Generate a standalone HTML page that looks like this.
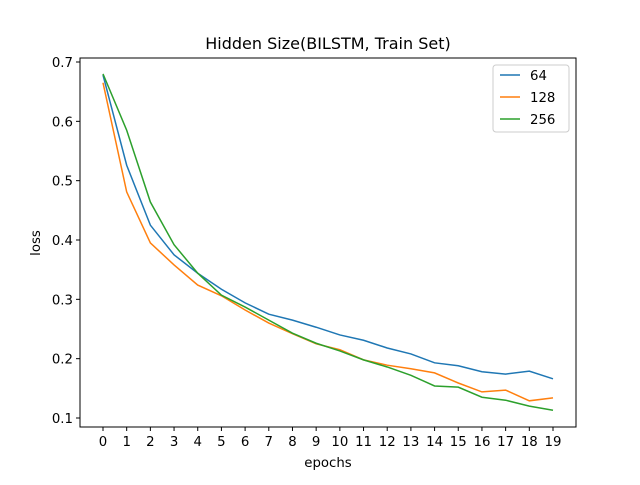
<!DOCTYPE html>
<html><head><meta charset="utf-8"><style>
body{margin:0;background:#fff}
svg text{font-family:"DejaVu Sans","Liberation Sans",sans-serif;fill:#000}
</style></head><body>
<svg id="chart" width="640" height="480" xmlns="http://www.w3.org/2000/svg">
<rect width="640" height="480" fill="#fff"/>
<text x="328" y="49" font-size="16" text-anchor="middle">Hidden Size(BILSTM, Train Set)</text>
<g id="marks"></g>
<g id="axes"></g>
<rect x="80" y="58" width="496" height="369" fill="none" stroke="#000" stroke-width="1"/>
<text x="328" y="467" font-size="13.3" text-anchor="middle">epochs</text>
<text x="40" y="243" font-size="13.3" text-anchor="middle" transform="rotate(-90 40 243)">loss</text>
<g id="legend">
<rect x="493" y="65" width="76" height="67" rx="3" fill="#fff" stroke="#ccc"/>
</g>
</svg>
<script>
const epochs=[0,1,2,3,4,5,6,7,8,9,10,11,12,13,14,15,16,17,18,19];
const s64=[0.678,0.526,0.425,0.375,0.344,0.317,0.294,0.275,0.265,0.253,0.240,0.231,0.218,0.208,0.193,0.188,0.178,0.174,0.179,0.166];
const s128=[0.665,0.481,0.395,0.358,0.324,0.306,0.282,0.260,0.242,0.225,0.215,0.198,0.189,0.183,0.176,0.159,0.144,0.147,0.129,0.134];
const s256=[0.680,0.585,0.464,0.392,0.344,0.307,0.287,0.265,0.243,0.226,0.213,0.198,0.186,0.172,0.154,0.152,0.135,0.130,0.120,0.113];
const seriesNames=["64","128","256"];
const yTicks=[0.1,0.2,0.3,0.4,0.5,0.6,0.7];
const colors=["#1f77b4","#ff7f0e","#2ca02c"];
const NS="http://www.w3.org/2000/svg";
const xs=e=>103+(e-0)*(553-103)/19;
const ys=v=>418-(v-0.1)*(418-62)/0.6;
const marks=document.getElementById('marks'),axes=document.getElementById('axes'),legend=document.getElementById('legend');
function mk(tag,attrs,parent){const el=document.createElementNS(NS,tag);for(const k in attrs)el.setAttribute(k,attrs[k]);parent.appendChild(el);return el;}
epochs.forEach(e=>{
  const t=mk('line',{x1:xs(e),x2:xs(e),y1:427,y2:431,stroke:'#000'},axes);
  
  
  const l=mk('text',{x:xs(e),y:446,'font-size':13.3,'text-anchor':'middle'},axes);
  l.textContent=e;
  
  
});
yTicks.forEach(v=>{
  const t=mk('line',{x1:76,x2:80,y1:ys(v),y2:ys(v),stroke:'#000'},axes);
  
  
  const l=mk('text',{x:73,y:ys(v)+5,'font-size':13.3,'text-anchor':'end'},axes);
  l.textContent=v.toFixed(1);
  
  
});
[s64,s128,s256].forEach((s,i)=>{
  const p=mk('polyline',{points:s.map((v,j)=>xs(epochs[j])+','+ys(v)).join(' '),fill:'none',stroke:colors[i],'stroke-width':1.5},marks);
  
  
  const y=75+i*22;
  const ll=mk('line',{x1:500,x2:520,y1:y,y2:y,stroke:colors[i],'stroke-width':1.5},legend);
  
  
  const lt=mk('text',{x:530,y:y+5,'font-size':13.3},legend);
  lt.textContent=seriesNames[i];
  
  
});
</script>
</body></html>
